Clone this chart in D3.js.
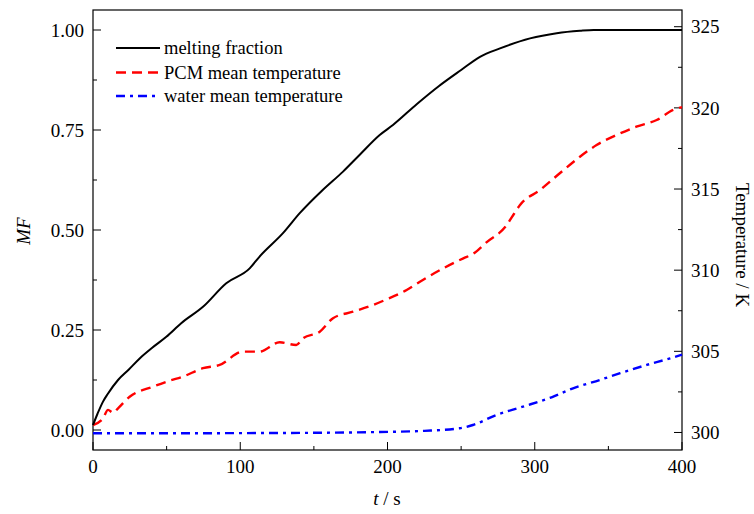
<!DOCTYPE html>
<html><head><meta charset="utf-8">
<script src="https://cdn.jsdelivr.net/npm/d3@7"></script>
<style>body{margin:0;background:#fff}svg{display:block}</style>
</head><body><svg id="c" width="754" height="514"></svg>
<script>
// time (s) and melting fraction
const mfTime = [0,3,6.8,10,17,24,31.7,40,49.8,59.9,74.7,90.5,106.4,113,129,140.4,156,169.8,181,194.7,203.7,220,235,250,262.8,276.4,296.8,314.9,330.7,340,400];
const mfValues = [0.0125,0.04,0.071,0.09,0.125,0.15,0.179,0.205,0.233,0.267,0.308,0.367,0.404,0.433,0.492,0.542,0.60,0.646,0.6875,0.7375,0.7625,0.815,0.86,0.90,0.933,0.954,0.979,0.992,0.998,1.0,1.0];
// PCM mean temperature (K)
const pcmTime = [0,6.8,10.2,13.6,17,24.9,40.7,52,61,74.7,86,101.9,113,126.8,138,142.6,154,163,176.6,190.3,199.3,213,224,238,251.5,258,267,281,285.4,290,303.6,317,330.7,342,355.6,369,382.8,394,400];
const pcmValues = [300.46,300.87,301.39,301.22,301.49,302.2,302.82,303.19,303.44,303.96,304.16,304.98,304.98,305.56,305.39,305.8,306.21,307.04,307.44,307.86,308.2,308.78,309.4,310.12,310.73,311.0,311.7,312.78,313.4,314.02,314.94,315.97,316.99,317.71,318.33,318.84,319.25,319.87,320.05];
// water mean temperature (K)
const waterTime = [0,50,100,150,195,225,249,258,274,292,312.6,326,344,358,376,392,400];
const waterValues = [299.95,299.95,299.96,299.98,300.03,300.1,300.26,300.46,301.08,301.59,302.21,302.72,303.23,303.65,304.16,304.57,304.8];

const xTicks = [0,100,200,300,400];
const mfTicks = [0,0.25,0.5,0.75,1.0];
const tTicks = [300,305,310,315,320,325];
const legendLabels = ["melting fraction","PCM mean temperature","water mean temperature"];

const FONT = "'Liberation Serif', 'Times New Roman', Times, 'DejaVu Serif', serif";
const svg = d3.select("#c");
const L=93,R=682,T=10,B=450;
const x = d3.scaleLinear().domain([0,400]).range([L,R]);
const yL = d3.scaleLinear().domain([-0.05,1.05]).range([B,T]);
const yR = d3.scaleLinear().domain([298.92,326.03]).range([B,T]);

const g = svg.append("g").attr("font-family",FONT).style("font-family",FONT);
// frame
g.append("rect").attr("x",L).attr("y",T).attr("width",R-L).attr("height",B-T)
 .attr("fill","none").attr("stroke","#000").attr("stroke-width",1.2);

const fs = 19;
// bottom axis ticks (inward)
const xMinor = d3.range(50,400,100);
xTicks.forEach(v=>{
  g.append("line").attr("x1",x(v)).attr("x2",x(v)).attr("y1",B).attr("y2",B-8).attr("stroke","#000");
  g.append("text").attr("x",x(v)).attr("y",473).attr("text-anchor","middle").attr("font-size",fs).text(v);
});
xMinor.forEach(v=>g.append("line").attr("x1",x(v)).attr("x2",x(v)).attr("y1",B).attr("y2",B-4).attr("stroke","#000"));
// left axis
mfTicks.forEach(v=>{
  g.append("line").attr("x1",L).attr("x2",L+8).attr("y1",yL(v)).attr("y2",yL(v)).attr("stroke","#000");
  g.append("text").attr("x",84).attr("y",yL(v)).attr("dy","0.35em").attr("text-anchor","end").attr("font-size",fs).text(d3.format(".2f")(v));
});
[0.125,0.375,0.625,0.875].forEach(v=>g.append("line").attr("x1",L).attr("x2",L+4).attr("y1",yL(v)).attr("y2",yL(v)).attr("stroke","#000"));
// right axis
tTicks.forEach(v=>{
  g.append("line").attr("x1",R).attr("x2",R-8).attr("y1",yR(v)).attr("y2",yR(v)).attr("stroke","#000");
  g.append("text").attr("x",691).attr("y",yR(v)).attr("dy","0.35em").attr("text-anchor","start").attr("font-size",fs).text(v);
});
[302.5,307.5,312.5,317.5,322.5].forEach(v=>g.append("line").attr("x1",R).attr("x2",R-4).attr("y1",yR(v)).attr("y2",yR(v)).attr("stroke","#000"));

// axis titles
g.append("text").attr("transform","translate(30,231) rotate(-90)").attr("text-anchor","middle")
 .attr("font-size",fs).attr("font-style","italic").text("MF");
const xt = g.append("text").attr("x",387).attr("y",505).attr("text-anchor","middle").attr("font-size",fs);
xt.append("tspan").attr("font-style","italic").text("t");
xt.append("tspan").text(" / s");
g.append("text").attr("transform","translate(736,245) rotate(90)").attr("text-anchor","middle")
 .attr("font-size",fs).text("Temperature / K");

// lines
const curve = d3.curveMonotoneX;
const lineMF = d3.line().x(d=>x(d[0])).y(d=>yL(d[1])).curve(curve);
const lineT = d3.line().x(d=>x(d[0])).y(d=>yR(d[1])).curve(curve);
const styles = [
  {color:"#000000",dash:null,w:2},
  {color:"#ff0000",dash:"10,6",w:2.4},
  {color:"#0000ff",dash:"9,5,3,5",w:2.4}
];
g.append("path").attr("d",lineT(waterTime.map((t,i)=>[t,waterValues[i]]))).attr("fill","none")
 .attr("stroke",styles[2].color).attr("stroke-width",styles[2].w).attr("stroke-dasharray",styles[2].dash);
g.append("path").attr("d",lineT(pcmTime.map((t,i)=>[t,pcmValues[i]]))).attr("fill","none")
 .attr("stroke",styles[1].color).attr("stroke-width",styles[1].w).attr("stroke-dasharray",styles[1].dash);
g.append("path").attr("d",lineMF(mfTime.map((t,i)=>[t,mfValues[i]]))).attr("fill","none")
 .attr("stroke",styles[0].color).attr("stroke-width",styles[0].w);

// legend
const ly = [48,72.5,96];
legendLabels.forEach((lab,i)=>{
  const s = styles[i];
  const ln = g.append("line").attr("x1",116).attr("x2",160).attr("y1",ly[i]).attr("y2",ly[i])
    .attr("stroke",s.color).attr("stroke-width",s.w);
  if(s.dash) ln.attr("stroke-dasharray",s.dash);
  g.append("text").attr("x",164).attr("y",ly[i]).attr("dy","0.33em").attr("font-size",18.5).text(lab);
});
</script></body></html>
